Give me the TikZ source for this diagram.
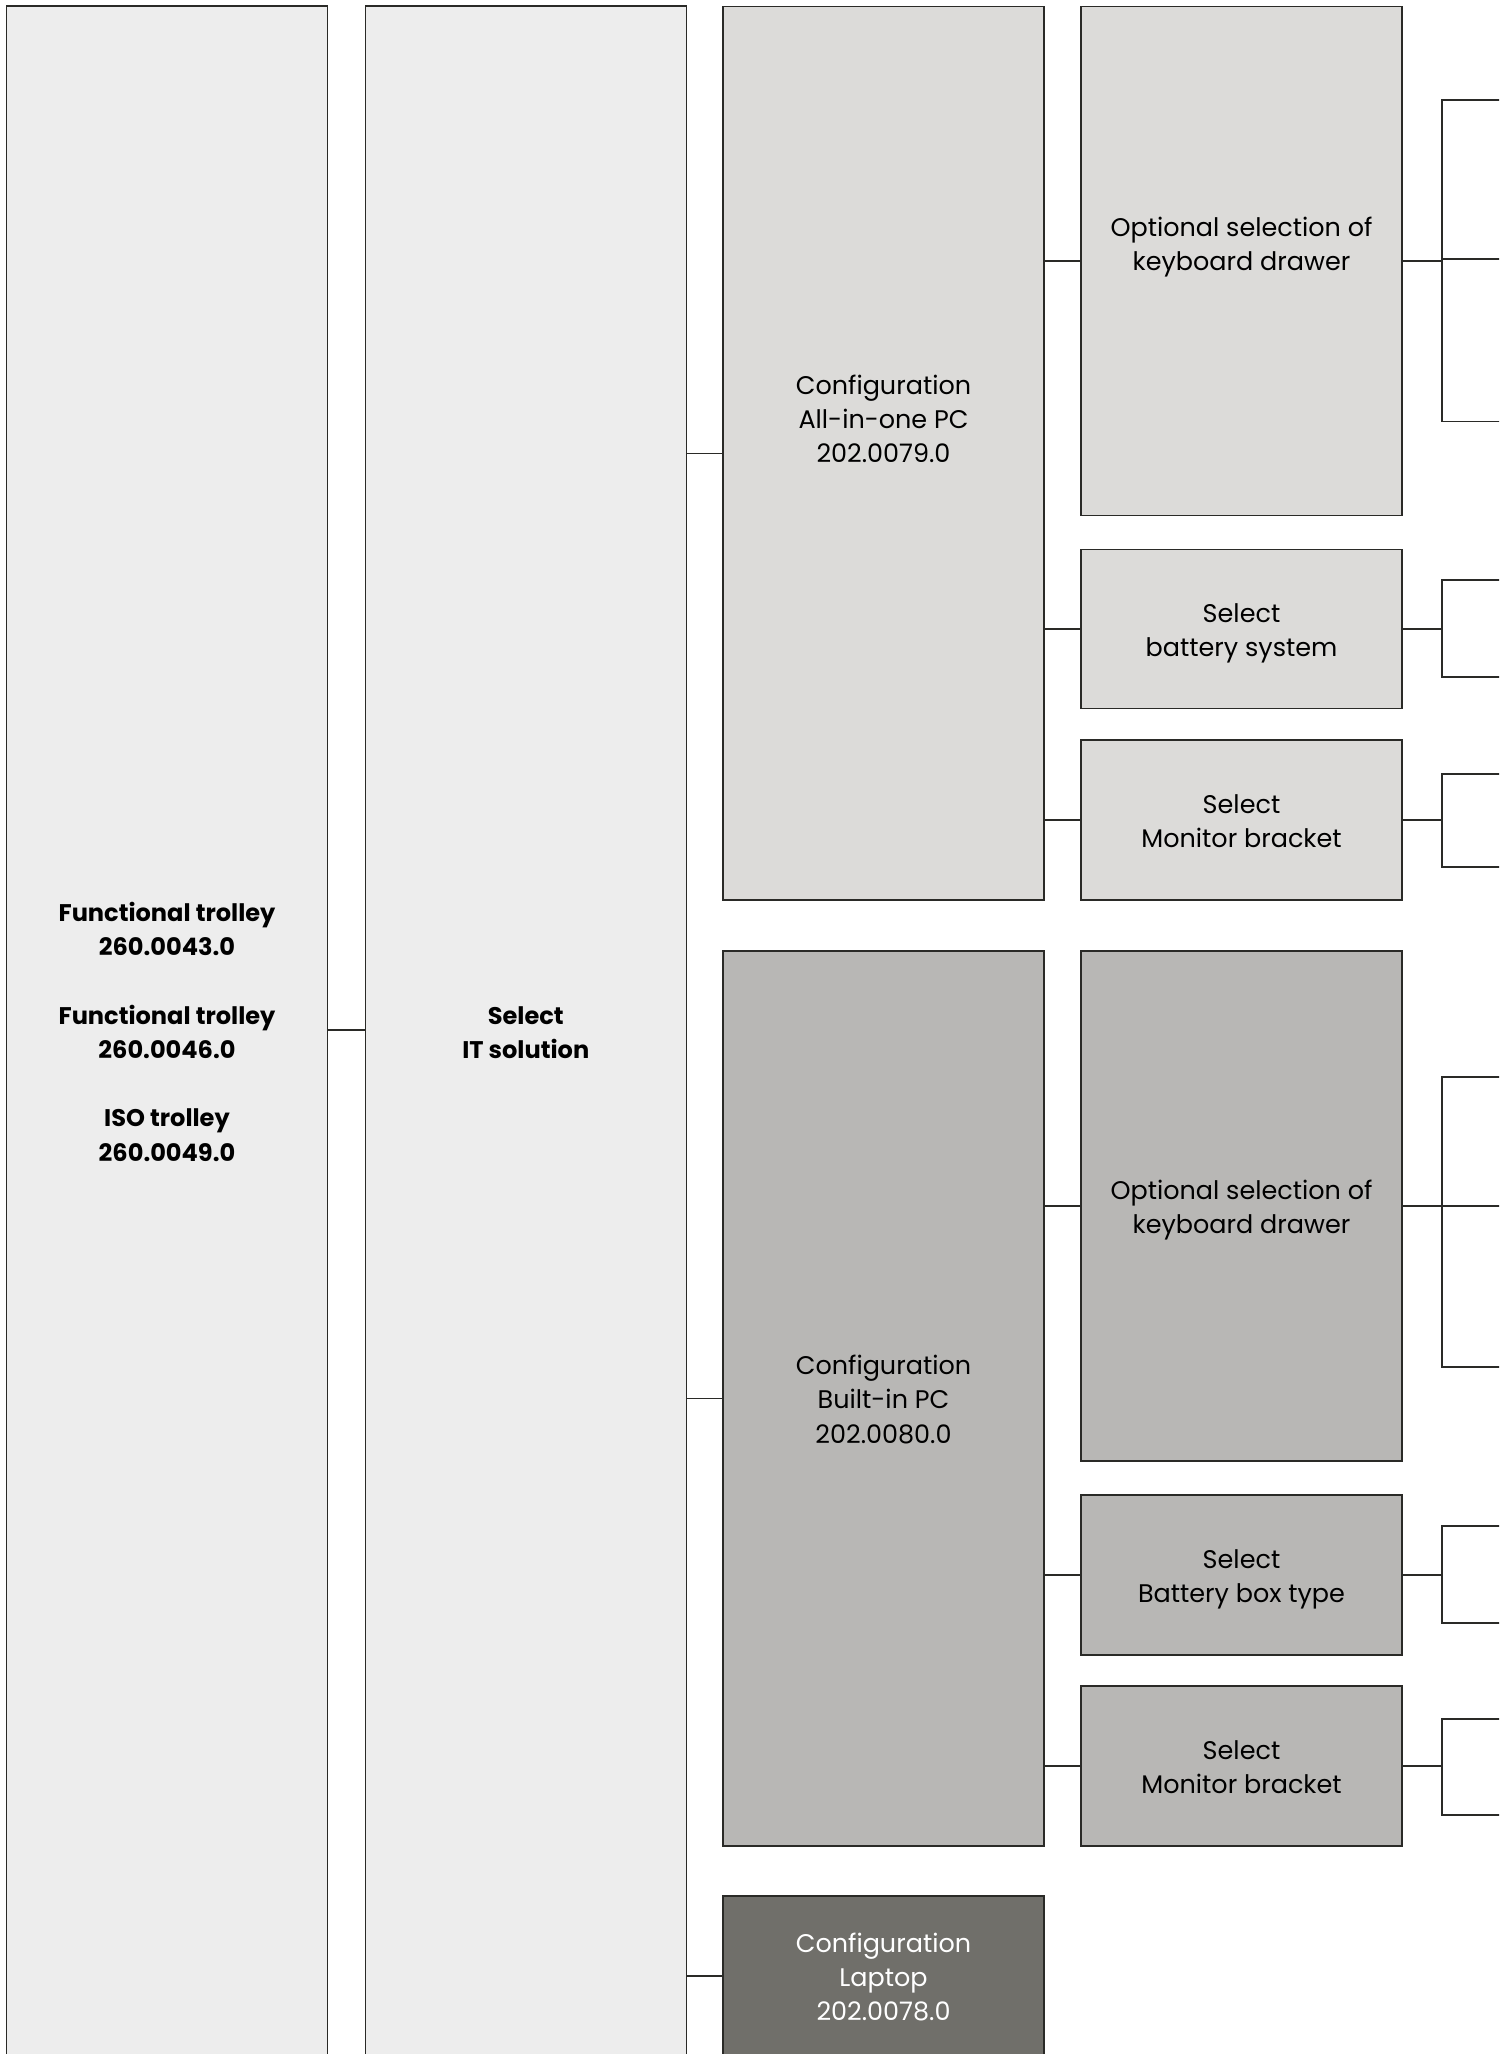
\documentclass[tikz,border=0pt]{standalone}
\usepackage{fontspec}
\setmainfont{Poppins}
\usetikzlibrary{calc}

\definecolor{edge}{HTML}{2A2A27}
\definecolor{palegray}{HTML}{EDEDED}
\definecolor{lightgray}{HTML}{DCDBD9}
\definecolor{midgray}{HTML}{B8B7B5}
\definecolor{darkgray}{HTML}{706F6A}

\newcommand{\hd}[1]{{\fontsize{13.7}{19.5}\selectfont\bfseries #1}}
% centred lines; the optional depth pushes the text up
\newcommand{\boxtext}[2][0pt]{\begin{tabular}{@{}c@{}}\rule{0pt}{17.6pt}#2\rule[-#1]{0pt}{0pt}\end{tabular}}

\begin{document}
\begin{tikzpicture}[x=0.02cm, y=-0.02cm,
    box/.style={draw=edge, line width=0.8pt, minimum width=6.42cm, inner sep=0pt,
      font=\fontsize{14.5}{19.5}\selectfont},
    pale/.style={box, fill=palegray},
    lightbox/.style={box, fill=lightgray},
    midbox/.style={box, fill=midgray},
    darkbox/.style={box, fill=darkgray, text=white},
    link/.style={draw=edge, line width=0.8pt}
]
\useasboundingbox (0,0) rectangle (1499,2054);
\clip (0,0) rectangle (1499,2054);

% first two columns
\node[pale, minimum height=41cm] (trolley) at (167,1031) {\boxtext{\hd{Functional trolley}\\\hd{260.0043.0}\\[19.5pt]\hd{Functional trolley}\\\hd{260.0046.0}\\[19.5pt]\hd{ISO trolley}\\\hd{260.0049.0}}};
\node[pale, minimum height=41cm] (itsol) at (525.75,1031) {\boxtext{\hd{Select}\\\hd{IT solution}}};

% configurations
\node[lightbox, minimum height=17.87cm] (aio) at (883.5,453.25) {\boxtext[45.8pt]{Configuration\\All-in-one PC\\202.0079.0}};
\node[midbox, minimum height=17.9cm] (bip) at (883.5,1398.5) {\boxtext{Configuration\\Built-in PC\\202.0080.0}};
\node[darkbox, minimum height=3.2cm] (lap) at (883.5,1976) {\boxtext{Configuration\\Laptop\\202.0078.0}};

% options
\node[lightbox, minimum height=10.18cm] (kbdA) at (1241.5,261) {\boxtext[25.8pt]{Optional selection of\\keyboard drawer}};
\node[lightbox, minimum height=3.18cm] (batA) at (1241.5,629) {\boxtext{Select\\battery system}};
\node[lightbox, minimum height=3.2cm] (monA) at (1241.5,820) {\boxtext{Select\\Monitor bracket}};
\node[midbox, minimum height=10.2cm] (kbdB) at (1241.5,1206) {\boxtext{Optional selection of\\keyboard drawer}};
\node[midbox, minimum height=3.2cm] (batB) at (1241.5,1575) {\boxtext{Select\\Battery box type}};
\node[midbox, minimum height=3.2cm] (monB) at (1241.5,1766) {\boxtext{Select\\Monitor bracket}};

% ends of the cut-off branches
\coordinate (kbdA1) at (1520,100);
\coordinate (kbdA2) at (1520,259);
\coordinate (kbdA3) at (1520,421.5);
\coordinate (batA1) at (1520,580);
\coordinate (batA2) at (1520,677);
\coordinate (monA1) at (1520,774);
\coordinate (monA2) at (1520,867);
\coordinate (kbdB1) at (1520,1077);
\coordinate (kbdB2) at (1520,1206);
\coordinate (kbdB3) at (1520,1367);
\coordinate (batB1) at (1520,1526);
\coordinate (batB2) at (1520,1623);
\coordinate (monB1) at (1520,1719);
\coordinate (monB2) at (1520,1815);

\draw[link] (trolley.east |- 0,1030) -- (itsol.west |- 0,1030);
\foreach \n in {aio,bip,lap}
  \draw[link] (itsol.east |- \n.west) -- (\n.west);
\foreach \n in {kbdA,batA,monA}
  \draw[link] (aio.east |- \n.west) -- (\n.west);
\foreach \n in {kbdB,batB,monB}
  \draw[link] (bip.east |- \n.west) -- (\n.west);

\foreach \n/\k in {kbdA/3,batA/2,monA/2,kbdB/3,batB/2,monB/2}
  \foreach \i in {1,...,\k}
    \draw[link] (\n.east) -- ++(39.5,0) |- (\n\i);
\end{tikzpicture}
\end{document}
